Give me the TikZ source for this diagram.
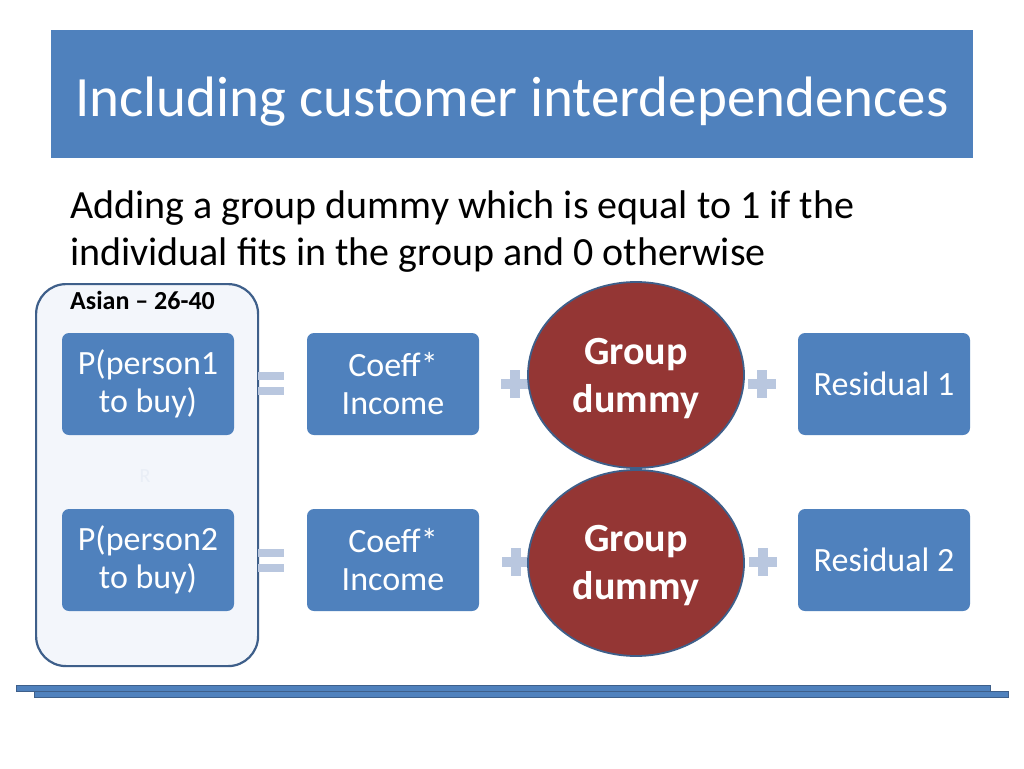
\documentclass[tikz,border=0pt]{standalone}
\usepackage{fontspec}
\setmainfont{Carlito}
\usetikzlibrary{shapes.geometric}
\definecolor{accent}{HTML}{4F81BD}
\definecolor{edge}{HTML}{3E5F8A}
\definecolor{darkred}{HTML}{943634}
\definecolor{signc}{HTML}{B9C7DF}
\definecolor{groupfill}{HTML}{F3F6FB}
\definecolor{faint}{HTML}{E9EEF6}
\tikzset{
  cell/.style={draw=none, fill=accent, rounded corners=7pt, minimum width=172pt, minimum height=102pt, text=white, align=center, inner sep=0pt, font=\fontsize{34}{38}\selectfont},
  dummy/.style={ellipse, draw=edge, line width=1.8pt, fill=darkred, minimum width=216pt, minimum height=186pt, inner sep=0pt},
  dummytext/.style={text=white, align=center, inner sep=0pt, font=\bfseries\fontsize{40}{48}\selectfont},
  signbar/.style={fill=signc, draw=none},
}
\begin{document}
\begin{tikzpicture}[x=1pt,y=-1pt]
\useasboundingbox (0,0) rectangle (1024,768);
\fill[white] (0,0) rectangle (1024,768);
% title
\node[fill=accent, minimum width=922pt, minimum height=128pt, inner sep=0pt, anchor=north west] (title) at (51,30) {};
\node[text=white, font=\fontsize{57}{66}\selectfont, anchor=base] (titletext) at (512,116) {Including customer interdependences};
% subtitle
\node[anchor=base west, inner sep=0pt, align=left, font=\fontsize{40}{47}\selectfont] (sub) at (70,265) {Adding a group dummy which is equal to 1 if the\\individual fits in the group and 0 otherwise};
% group box
\node[draw=edge, line width=2.2pt, fill=groupfill, rounded corners=30pt, minimum width=222pt, minimum height=382pt, anchor=north west, inner sep=0pt] (group) at (35,283) {};
\node[font=\bfseries\fontsize{26}{30}\selectfont, anchor=base west, inner sep=0pt] (grouplabel) at (70,309) {Asian -- 26-40};
\node[text=faint, font=\fontsize{20}{24}\selectfont] (rr) at (145,476) {R};
% equals signs
\foreach \yy/\nm in {384/e1,561/e2}{
  \coordinate (\nm) at (271,\yy);
  \fill[signbar] ([shift={(-13,-12)}]\nm) rectangle ([shift={(13,-4)}]\nm);
  \fill[signbar] ([shift={(-13,3)}]\nm) rectangle ([shift={(13,11)}]\nm);
}
% plus signs
\foreach \xx/\yy/\nm in {515/384/s1,762/384/s2,516/562/s3,763/562/s4}{
  \coordinate (\nm) at (\xx,\yy);
  \fill[signbar] ([shift={(-14,-5)}]\nm) rectangle ([shift={(14,5)}]\nm);
  \fill[signbar] ([shift={(-5,-14)}]\nm) rectangle ([shift={(5,14)}]\nm);
}
% row 1
\node[cell] (p1) at (148,384) {P(person1\\to buy)};
\node[cell] (c1) at (393,384) {Coeff*\\Income};
\node[dummy] (g1) at (636,375) {};
\node[dummytext] (g1t) at (636,379) {Group\\dummy};
\node[cell] (r1) at (884,384) {Residual 1};
% row 2
\node[cell] (p2) at (148,560) {P(person2\\to buy)};
\node[cell] (c2) at (393,560) {Coeff*\\Income};
\node[dummy] (g2) at (636,563) {};
\node[dummytext] (g2t) at (636,566) {Group\\dummy};
\node[cell] (r2) at (884,560) {Residual 2};
% bottom lines
\draw[draw=edge, fill=accent, line width=0.9pt] (16,685) rectangle (990,691);
\draw[draw=edge, fill=accent, line width=0.9pt] (34,691) rectangle (1008,697);
\end{tikzpicture}
\end{document}
